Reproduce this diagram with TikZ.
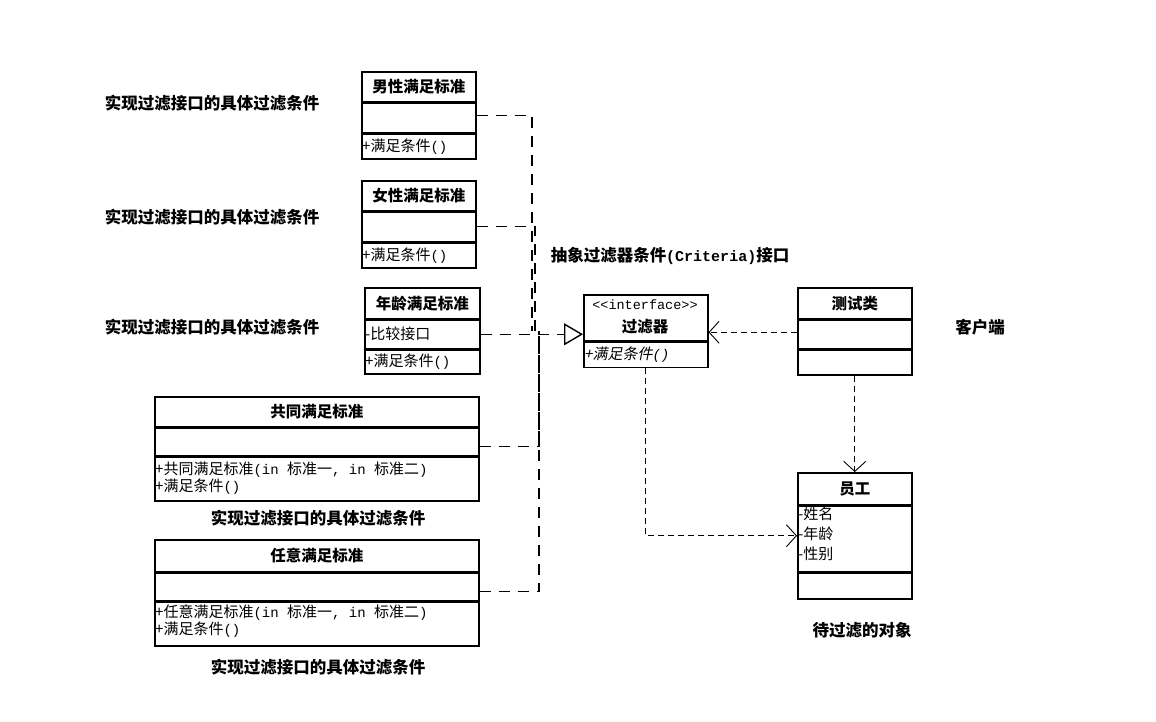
\documentclass[tikz,border=0pt]{standalone}
\usepackage{fontspec}
\setmainfont{Noto Sans CJK SC}
\newfontfamily\mymono{Liberation Mono}
\newfontfamily\cjkit{Noto Sans CJK SC}[FakeSlant=0.2]
\newcommand\mylat[1]{{\mymono\fontsize{14}{16}\selectfont #1}}
\newcommand\mylbllat[1]{{\mymono\fontsize{15}{17}\selectfont #1}}
\newcommand\ttlfont{\fontsize{15.5}{18}\selectfont\bfseries}
\newcommand\bdyfont{\fontsize{15}{17}\selectfont}
\newcommand\lblfont{\fontsize{16.5}{19}\selectfont\bfseries}
\usetikzlibrary{arrows.meta}
\tikzset{
  sec/.style={draw, line width=1.5pt, anchor=north west, inner sep=0pt, font=\ttlfont},
  bodytxt/.style={anchor=west, inner sep=0pt, font=\bdyfont},
  lbl/.style={inner sep=0pt, font=\lblfont},
  bus/.style={line width=1.1pt, dash pattern=on 11pt off 8pt},
  dep/.style={line width=1pt, dash pattern=on 6pt off 4pt, -{Straight Barb[length=10pt, width=22pt, line width=0.9pt]}},
  realize/.style={bus, -{Triangle[open, length=19pt, width=22pt, line width=1.4pt, fill=white]}}
}
\begin{document}
\begin{tikzpicture}[x=1pt, y=-1pt]
\fill[white] (0,0) rectangle (1156,721);
\useasboundingbox (0,0) rectangle (1156,721);

% 男性满足标准
\node[sec, minimum width=114pt, minimum height=30pt] (m1t) at (361,71) {男性满足标准};
\node[sec, minimum width=114pt, minimum height=29pt] (m1a) at (m1t.south west) {};
\node[sec, minimum width=114pt, minimum height=25pt] (m1m) at (m1a.south west) {};
\node[bodytxt] (m1x) at ([xshift=1pt]m1m.west) {+满足条件\mylat{()}};

% 女性满足标准
\node[sec, minimum width=114pt, minimum height=30pt] (f1t) at (361,180) {女性满足标准};
\node[sec, minimum width=114pt, minimum height=29pt] (f1a) at (f1t.south west) {};
\node[sec, minimum width=114pt, minimum height=25pt] (f1m) at (f1a.south west) {};
\node[bodytxt] (f1x) at ([xshift=1pt]f1m.west) {+满足条件\mylat{()}};

% 年龄满足标准
\node[sec, minimum width=115pt, minimum height=31pt] (a1t) at (364,287) {年龄满足标准};
\node[sec, minimum width=115pt, minimum height=28pt] (a1a) at (a1t.south west) {};
\node[sec, minimum width=115pt, minimum height=24pt] (a1m) at (a1a.south west) {};
\node[bodytxt] (a1y) at ([xshift=1pt]a1a.west) {-比较接口};
\node[bodytxt] (a1x) at ([xshift=1pt]a1m.west) {+满足条件\mylat{()}};

% 共同满足标准
\node[sec, minimum width=324pt, minimum height=30pt] (c1t) at (154,396) {共同满足标准};
\node[sec, minimum width=324pt, minimum height=27pt] (c1a) at (c1t.south west) {};
\node[sec, minimum width=324pt, minimum height=44pt] (c1m) at (c1a.south west) {};
\node[bodytxt] (c1x) at (155,470) {+共同满足标准\mylat{(in }标准一\mylat{, in }标准二\mylat{)}};
\node[bodytxt] (c1y) at (155,487) {+满足条件\mylat{()}};

% 任意满足标准
\node[sec, minimum width=324pt, minimum height=32pt] (r1t) at (154,539) {任意满足标准};
\node[sec, minimum width=324pt, minimum height=27pt] (r1a) at (r1t.south west) {};
\node[sec, minimum width=324pt, minimum height=44pt] (r1m) at (r1a.south west) {};
\node[bodytxt] (r1x) at (155,613) {+任意满足标准\mylat{(in }标准一\mylat{, in }标准二\mylat{)}};
\node[bodytxt] (r1y) at (155,630) {+满足条件\mylat{()}};

% 过滤器 interface
\node[sec, minimum width=124pt, minimum height=46pt] (ift) at (583,294) {};
\node[sec, minimum width=124pt, minimum height=25pt] (ifm) at (ift.south west) {};
\node[inner sep=0pt, font=\mymono\fontsize{13.5}{16}\selectfont] (ifs) at (645,305) {<<interface>>};
\node[inner sep=0pt, font=\ttlfont] (ifn) at (645,327) {过滤器};
\node[bodytxt] (ifx) at ([xshift=1pt]ifm.west) {{\cjkit +满足条件}{\itshape\mylat{()}}};

% 测试类
\node[sec, minimum width=114pt, minimum height=31pt] (t1t) at (797,287) {测试类};
\node[sec, minimum width=114pt, minimum height=28pt] (t1a) at (t1t.south west) {};
\node[sec, minimum width=114pt, minimum height=25pt] (t1m) at (t1a.south west) {};

% 员工
\node[sec, minimum width=114pt, minimum height=32pt] (e1t) at (797,472) {员工};
\node[sec, minimum width=114pt, minimum height=65pt] (e1a) at (e1t.south west) {};
\node[sec, minimum width=114pt, minimum height=26pt] (e1m) at (e1a.south west) {};
\node[bodytxt] (e1x) at (798,514) {-姓名};
\node[bodytxt] (e1y) at (798,534) {-年龄};
\node[bodytxt] (e1z) at (798,554) {-性别};

% labels
\node[lbl] (L1) at (212,103) {实现过滤接口的具体过滤条件};
\node[lbl] (L2) at (212,217) {实现过滤接口的具体过滤条件};
\node[lbl] (L3) at (212,327) {实现过滤接口的具体过滤条件};
\node[lbl] (L4) at (318,518) {实现过滤接口的具体过滤条件};
\node[lbl] (L5) at (318,667) {实现过滤接口的具体过滤条件};
\node[lbl] (L6) at (670,256) {抽象过滤器条件\mylbllat{(Criteria)}接口};
\node[lbl] (L7) at (980,327) {客户端};
\node[lbl] (L8) at (862,630) {待过滤的对象};

% bus connectors
\coordinate (j1) at (532,331);
\coordinate (j2) at (535,331);
\coordinate (j3) at (539,331);
\draw[bus] ([yshift=2pt]m1a.east) -| (j1);
\draw[bus] (f1a.east) -| (j2);
\draw[bus] ([yshift=-5pt]c1a.east) -| (j3);
\draw[bus] ([yshift=-5pt]r1a.east) -| (j3);
\draw[realize] (a1a.east) -- (a1a.east -| ift.west);

% dependencies
\draw[dep] ([yshift=2pt]t1a.west) -- ([yshift=2pt]t1a.west -| ift.east);
\draw[dep] (t1m.south) -- (e1t.north);
\draw[dep] (ifm.south) |- ([yshift=3pt]e1a.west);
\end{tikzpicture}
\end{document}
